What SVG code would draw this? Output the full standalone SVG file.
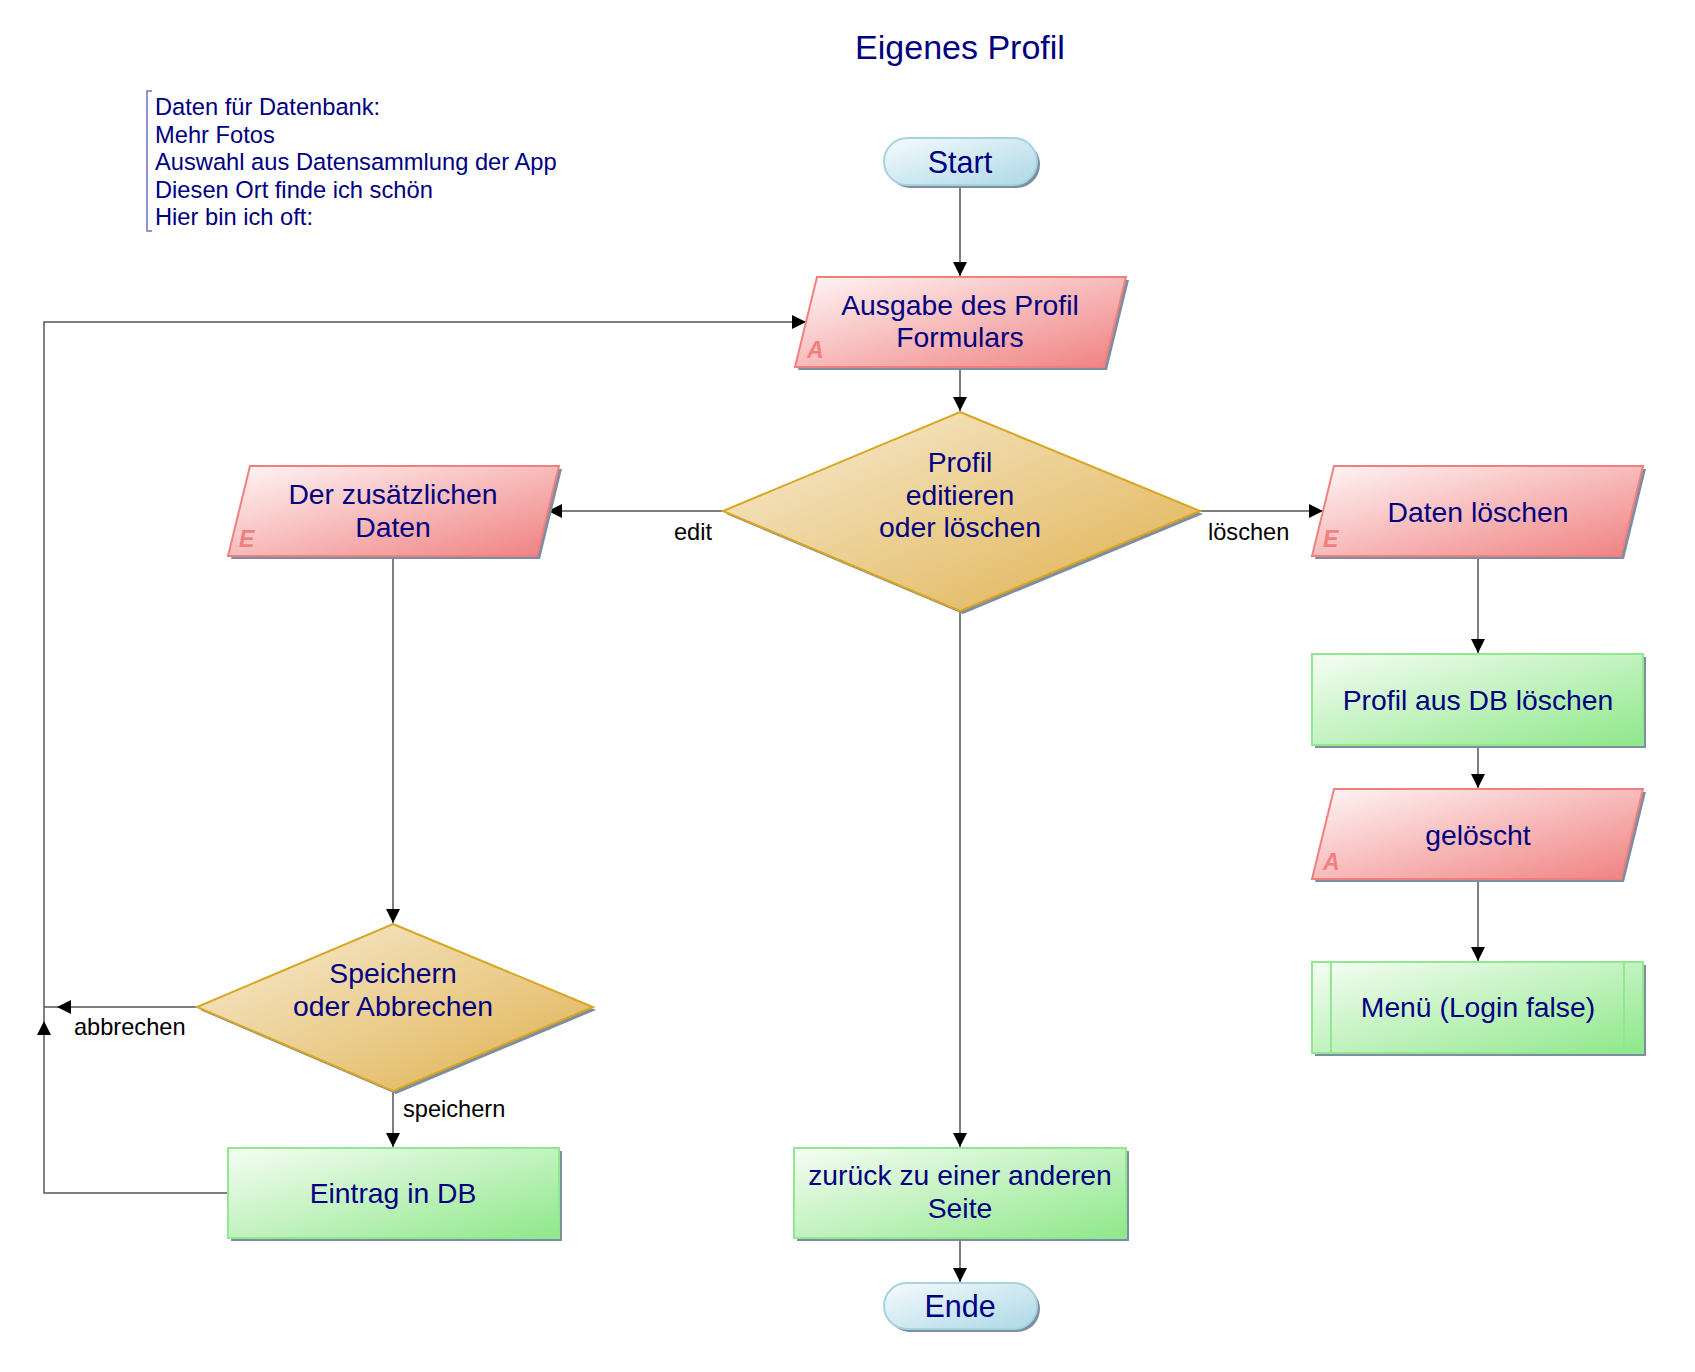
<svg xmlns="http://www.w3.org/2000/svg" width="1695" height="1372" viewBox="0 0 1695 1372">
<style>
.t{font-family:"Liberation Sans",Arial,sans-serif;font-size:28.3px;fill:#000080;text-anchor:middle}
.tt{font-family:"Liberation Sans",Arial,sans-serif;font-size:30.5px;fill:#000080;text-anchor:middle}
.lbl{font-family:"Liberation Sans",Arial,sans-serif;font-size:23.6px;fill:#000}
.note{font-family:"Liberation Sans",Arial,sans-serif;font-size:23.7px;fill:#000080}
.mk{font-family:"Liberation Sans",Arial,sans-serif;font-size:23px;font-weight:bold;font-style:italic;fill:#f08080}
.c{fill:none;stroke:#555;stroke-width:1.5}
.sh{fill:#7d8ea2}
.pill{fill:url(#gBlue);stroke:#a6d2e2;stroke-width:2}
.par{fill:url(#gPink);stroke:#f08080;stroke-width:2}
.dia{fill:url(#gGold);stroke:#daa520;stroke-width:2}
.box{fill:url(#gGreen);stroke:#90e890;stroke-width:2}
</style>
<defs>
<linearGradient id="gBlue" x1="0" y1="0" x2="1" y2="1"><stop offset="0" stop-color="#f6fbfd"/><stop offset="1" stop-color="#acd8e6"/></linearGradient>
<linearGradient id="gPink" x1="0" y1="0" x2="1" y2="1"><stop offset="0" stop-color="#fff6f6"/><stop offset="1" stop-color="#f08080"/></linearGradient>
<linearGradient id="gGold" x1="0" y1="0" x2="1" y2="1"><stop offset="0" stop-color="#f8edd6"/><stop offset="1" stop-color="#dfb04c"/></linearGradient>
<linearGradient id="gGreen" x1="0" y1="0" x2="1" y2="1"><stop offset="0" stop-color="#f6fdf4"/><stop offset="1" stop-color="#8ee88a"/></linearGradient>
<marker id="arr" markerUnits="userSpaceOnUse" markerWidth="14" markerHeight="14" refX="14" refY="7" orient="auto"><path d="M0,0 L14,7 L0,14 z" fill="#000"/></marker>
</defs>

<text x="960" y="59" style="font-family:'Liberation Sans',Arial,sans-serif;font-size:34px;fill:#000080;text-anchor:middle">Eigenes Profil</text>

<g id="note">
<path d="M152 91 H147 V231 H152" fill="none" stroke="#7070c0" stroke-width="1.5"/>
<text class="note" x="155"><tspan x="155" y="115">Daten für Datenbank:</tspan><tspan x="155" y="142.5">Mehr Fotos</tspan><tspan x="155" y="170">Auswahl aus Datensammlung der App</tspan><tspan x="155" y="197.5">Diesen Ort finde ich schön</tspan><tspan x="155" y="225">Hier bin ich oft:</tspan></text>
</g>

<g id="connectors">
<path class="c" d="M960 185 V276" marker-end="url(#arr)"/>
<path class="c" d="M960 367 V411" marker-end="url(#arr)"/>
<path class="c" d="M723 511 H548" marker-end="url(#arr)"/>
<path class="c" d="M1200 511 H1323" marker-end="url(#arr)"/>
<path class="c" d="M960 611 V1147" marker-end="url(#arr)"/>
<path class="c" d="M393 556 V923" marker-end="url(#arr)"/>
<path class="c" d="M393 1091 V1147" marker-end="url(#arr)"/>
<path class="c" d="M197 1007 H57" marker-end="url(#arr)"/>
<path class="c" d="M57 1007 H44"/>
<path class="c" d="M228 1193 H44 V1021" marker-end="url(#arr)"/>
<path class="c" d="M44 1021 V1007"/>
<path class="c" d="M44 1007 V322 H806" marker-end="url(#arr)"/>
<path class="c" d="M1478 556 V653" marker-end="url(#arr)"/>
<path class="c" d="M1478 745 V788" marker-end="url(#arr)"/>
<path class="c" d="M1478 879 V961" marker-end="url(#arr)"/>
<path class="c" d="M960 1238 V1282" marker-end="url(#arr)"/>
<text class="lbl" x="712" y="540" text-anchor="end">edit</text>
<text class="lbl" x="1208" y="540">löschen</text>
<text class="lbl" x="74" y="1035">abbrechen</text>
<text class="lbl" x="403" y="1117">speichern</text>
</g>

<g id="start">
<rect class="sh" x="887" y="141" width="153" height="47" rx="23.5"/>
<rect class="pill" x="884" y="138" width="153" height="47" rx="23.5"/>
<text class="tt" x="960" y="172.5">Start</text>
</g>

<g id="ausgabe">
<polygon class="sh" points="820,280 1129,280 1107,370 798,370"/>
<polygon class="par" points="817,277 1126,277 1104,367 795,367"/>
<text class="mk" x="807" y="358">A</text>
<text class="t" x="960" y="315">Ausgabe des Profil</text>
<text class="t" x="960" y="347">Formulars</text>
</g>

<g id="entscheidung1">
<polygon class="sh" points="963,415 1203,514 963,614 726,514"/>
<polygon class="dia" points="960,412 1200,511 960,611 723,511"/>
<text class="t" x="960" y="472">Profil</text>
<text class="t" x="960" y="505">editieren</text>
<text class="t" x="960" y="537">oder löschen</text>
</g>

<g id="zusatzdaten">
<polygon class="sh" points="253,469 562,469 540,559 231,559"/>
<polygon class="par" points="250,466 559,466 537,556 228,556"/>
<text class="mk" x="239" y="547">E</text>
<text class="t" x="393" y="504">Der zusätzlichen</text>
<text class="t" x="393" y="537">Daten</text>
</g>

<g id="datenloeschen">
<polygon class="sh" points="1337,469 1646,469 1624,559 1315,559"/>
<polygon class="par" points="1334,466 1643,466 1621,556 1312,556"/>
<text class="mk" x="1323" y="547">E</text>
<text class="t" x="1478" y="522">Daten löschen</text>
</g>

<g id="profildb">
<rect class="sh" x="1315" y="657" width="331" height="91"/>
<rect class="box" x="1312" y="654" width="331" height="91"/>
<text class="t" x="1478" y="710">Profil aus DB löschen</text>
</g>

<g id="geloescht">
<polygon class="sh" points="1337,792 1646,792 1624,882 1315,882"/>
<polygon class="par" points="1334,789 1643,789 1621,879 1312,879"/>
<text class="mk" x="1323" y="870">A</text>
<text class="t" x="1478" y="845">gelöscht</text>
</g>

<g id="menue">
<rect class="sh" x="1315" y="965" width="331" height="91"/>
<rect class="box" x="1312" y="962" width="331" height="91"/>
<line x1="1331" y1="962" x2="1331" y2="1053" stroke="#90e890" stroke-width="2"/>
<line x1="1624" y1="962" x2="1624" y2="1053" stroke="#90e890" stroke-width="2"/>
<text class="t" x="1478" y="1017">Menü (Login false)</text>
</g>

<g id="entscheidung2">
<polygon class="sh" points="396,927 596,1010 396,1094 200,1010"/>
<polygon class="dia" points="393,924 593,1007 393,1091 197,1007"/>
<text class="t" x="393" y="983">Speichern</text>
<text class="t" x="393" y="1016">oder Abbrechen</text>
</g>

<g id="eintrag">
<rect class="sh" x="231" y="1151" width="331" height="90"/>
<rect class="box" x="228" y="1148" width="331" height="90"/>
<text class="t" x="393" y="1203">Eintrag in DB</text>
</g>

<g id="zurueck">
<rect class="sh" x="797" y="1151" width="332" height="90"/>
<rect class="box" x="794" y="1148" width="332" height="90"/>
<text class="t" x="960" y="1185">zurück zu einer anderen</text>
<text class="t" x="960" y="1218">Seite</text>
</g>

<g id="ende">
<rect class="sh" x="887" y="1286" width="153" height="46" rx="23"/>
<rect class="pill" x="884" y="1283" width="153" height="46" rx="23"/>
<text class="tt" x="960" y="1317">Ende</text>
</g>
</svg>
